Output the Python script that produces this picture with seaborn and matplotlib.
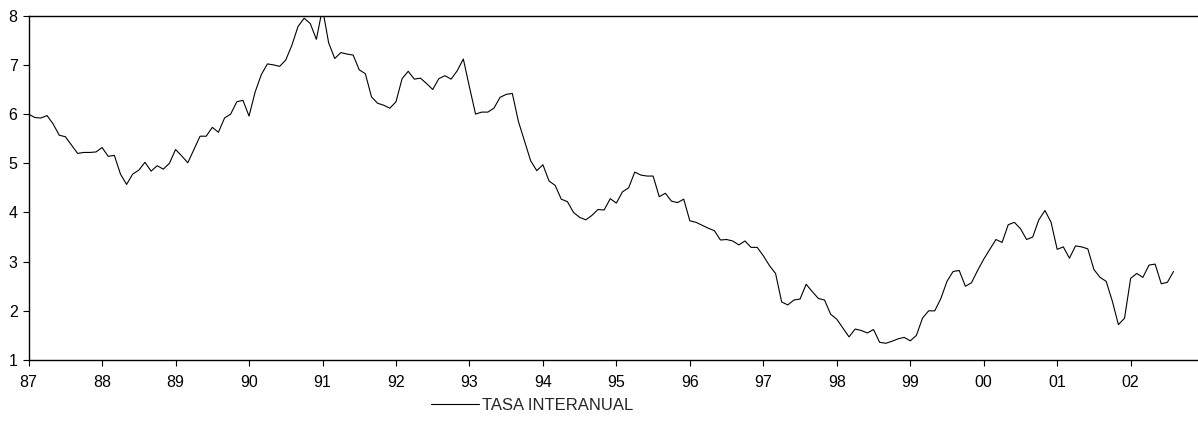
import pandas as pd
import matplotlib
matplotlib.use("Agg")
import matplotlib.pyplot as plt
import seaborn as sns

# monthly values, one list per year
tasa_1987 = [6.00, 5.93, 5.92, 5.97, 5.80, 5.57, 5.54, 5.37, 5.20, 5.22, 5.22, 5.23]
tasa_1988 = [5.32, 5.14, 5.16, 4.78, 4.57, 4.78, 4.86, 5.02, 4.84, 4.95, 4.88, 5.00]
tasa_1989 = [5.28, 5.15, 5.01, 5.28, 5.55, 5.55, 5.73, 5.63, 5.92, 6.00, 6.25, 6.28]
tasa_1990 = [5.96, 6.45, 6.80, 7.02, 7.00, 6.97, 7.10, 7.40, 7.78, 7.95, 7.84, 7.52]
tasa_1991 = [8.15, 7.45, 7.13, 7.25, 7.22, 7.20, 6.90, 6.82, 6.35, 6.22, 6.18, 6.12]
tasa_1992 = [6.25, 6.72, 6.87, 6.71, 6.73, 6.62, 6.50, 6.72, 6.78, 6.71, 6.88, 7.12]
tasa_1993 = [6.55, 6.00, 6.04, 6.04, 6.12, 6.34, 6.40, 6.42, 5.85, 5.45, 5.05, 4.85]
tasa_1994 = [4.97, 4.64, 4.55, 4.27, 4.22, 4.00, 3.90, 3.85, 3.94, 4.06, 4.05, 4.28]
tasa_1995 = [4.19, 4.42, 4.50, 4.82, 4.76, 4.74, 4.74, 4.32, 4.39, 4.23, 4.20, 4.27]
tasa_1996 = [3.83, 3.80, 3.74, 3.68, 3.63, 3.44, 3.45, 3.42, 3.34, 3.42, 3.29, 3.29]
tasa_1997 = [3.12, 2.92, 2.76, 2.18, 2.12, 2.22, 2.24, 2.54, 2.39, 2.25, 2.22, 1.93]
tasa_1998 = [1.83, 1.65, 1.47, 1.63, 1.60, 1.55, 1.62, 1.36, 1.34, 1.38, 1.43, 1.46]
tasa_1999 = [1.39, 1.50, 1.85, 2.00, 2.00, 2.25, 2.60, 2.80, 2.82, 2.50, 2.57, 2.82]
tasa_2000 = [3.05, 3.25, 3.45, 3.39, 3.75, 3.80, 3.67, 3.45, 3.50, 3.85, 4.04, 3.80]
tasa_2001 = [3.25, 3.30, 3.07, 3.32, 3.30, 3.26, 2.84, 2.68, 2.60, 2.20, 1.72, 1.85]
tasa_2002 = [2.66, 2.76, 2.68, 2.93, 2.95, 2.55, 2.58, 2.80]

year_labels = ['87', '88', '89', '90', '91', '92', '93', '94',
               '95', '96', '97', '98', '99', '00', '01', '02']

values = (tasa_1987 + tasa_1988 + tasa_1989 + tasa_1990 + tasa_1991 + tasa_1992
          + tasa_1993 + tasa_1994 + tasa_1995 + tasa_1996 + tasa_1997 + tasa_1998
          + tasa_1999 + tasa_2000 + tasa_2001 + tasa_2002)
df = pd.DataFrame({'mes': range(len(values)), 'tasa': values})

sns.set_style("ticks")
plt.rcParams['font.family'] = ['Liberation Sans', 'DejaVu Sans']

fig = plt.figure(figsize=(11.98, 4.29), dpi=100)
ax = fig.add_axes([0.0239, 0.1608, 0.9761, 0.8026])

sns.lineplot(data=df, x='mes', y='tasa', color='black', linewidth=0.8,
             ax=ax, label='TASA INTERANUAL', legend=False)

ax.set_xlim(0, 191)
ax.set_ylim(1, 8)
ax.set_xticks(range(0, 12 * len(year_labels), 12))
ax.set_xticklabels(year_labels)
ax.set_yticks(range(1, 9))
ax.set_xlabel('')
ax.set_ylabel('')
ax.tick_params(direction='out', length=4, width=0.8, labelsize=11.5, colors='black')
ax.tick_params(axis='x', pad=7)
ax.tick_params(axis='y', pad=4)

for side in ['left', 'bottom', 'top']:
    ax.spines[side].set_color('black')
    ax.spines[side].set_linewidth(1.0)
ax.spines['right'].set_visible(False)

handles, labels = ax.get_legend_handles_labels()
fig.legend(handles, labels, loc='center', bbox_to_anchor=(532 / 1198, 1 - 405 / 429),
           frameon=False, fontsize=12, handlelength=2.9, handletextpad=0.15)

fig.savefig('out.png', dpi=100)
